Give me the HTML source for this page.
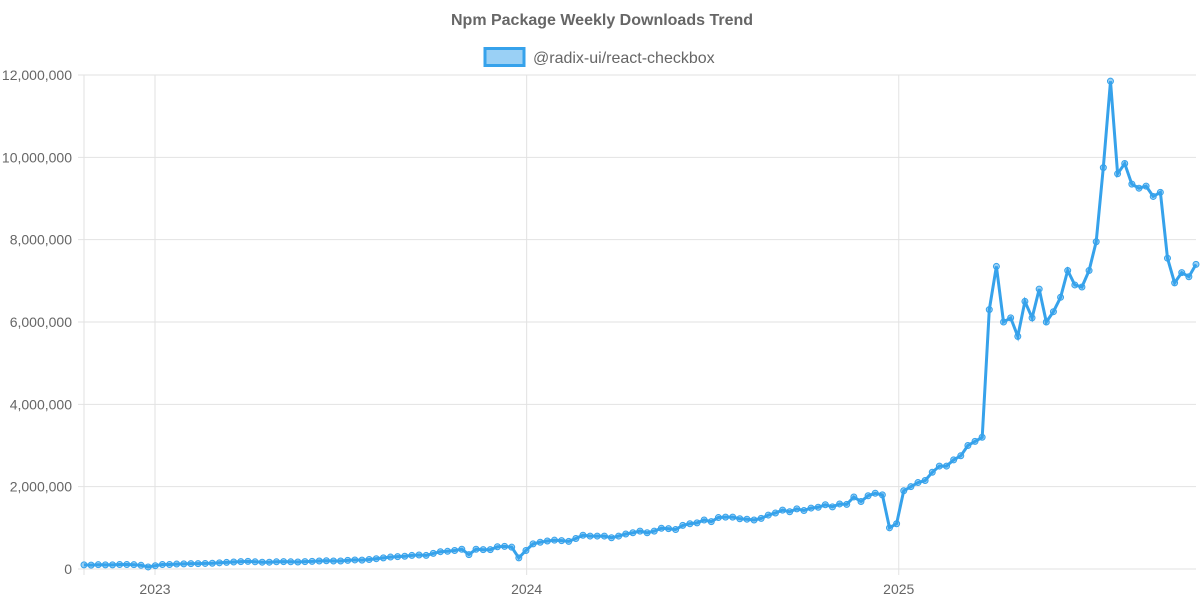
<!DOCTYPE html>
<html><head><meta charset="utf-8"><style>
body{margin:0;background:#fff;font-family:"Liberation Sans",sans-serif}
</style></head><body>
<svg id="c" width="1200" height="600" xmlns="http://www.w3.org/2000/svg">
<text x="602" y="25" text-anchor="middle" font-size="16" font-weight="bold" fill="#666">Npm Package Weekly Downloads Trend</text>
<g>
<rect x="485" y="48.5" width="39" height="17" fill="rgba(54,162,235,0.5)" stroke="#36a2eb" stroke-width="3"/>
<text x="533" y="63" font-size="16" fill="#666">@radix-ui/react-checkbox</text>
</g>
<g id="grid"></g><g id="plot"></g>
</svg>
<script>
const yTicks=[0,2000000,4000000,6000000,8000000,10000000,12000000];
const xTickLabels=["2023","2024","2025"];
const xTickIdx=[9.96,62.1,114.3];
const downloadsK=[100,95,105,100,100,110,110,105,90,50,
80,110,110,120,125,130,130,135,140,150,
160,170,180,185,175,165,165,175,180,175,
170,180,185,195,200,195,195,210,220,215,
230,250,270,290,300,310,330,340,330,380,
420,430,450,480,350,480,470,470,540,550,
530,270,450,610,650,680,700,690,670,740,
820,800,800,800,760,800,850,880,920,880,
920,990,980,960,1060,1100,1120,1190,1150,1250,
1260,1260,1220,1210,1190,1230,1310,1360,1430,1390,
1460,1420,1480,1500,1560,1510,1580,1570,1750,1640,
1780,1840,1800,1000,1100,
1900,2000,2100,2150,2350,2500,2500,2650,2750,3000,3100,3200,
6300,7350,6000,6100,5650,6500,6100,6800,6000,6250,6600,7250,6900,6850,7250,7950,9750,11850,
9600,9850,9350,9250,9300,9050,9150,7550,6950,7200,7100,7400];
const NS="http://www.w3.org/2000/svg";
const x0=84,x1=1196,yTop=75,yBot=569;
const n=downloadsK.length;
const xs=i=>x0+(x1-x0)*i/(n-1);
const ys=v=>yBot-(yBot-yTop)*v/12000000;
const grid=document.getElementById('grid'),plot=document.getElementById('plot');
function mk(tag,attrs,parent){const e=document.createElementNS(NS,tag);for(const k in attrs)e.setAttribute(k,attrs[k]);parent.appendChild(e);return e;}
yTicks.forEach(t=>{
 const l=mk('line',{x1:x0-6,x2:x1,y1:ys(t),y2:ys(t),stroke:'#e2e2e2','stroke-width':1},grid);
 
 
 const tx=mk('text',{x:72,y:ys(t)+5,'text-anchor':'end','font-size':14,fill:'#666'},grid);
 tx.textContent=t.toLocaleString('en-US');
 
 
});
const vl=mk('line',{x1:x0,x2:x0,y1:yTop,y2:yBot+6,stroke:'#e2e2e2'},grid);


xTickIdx.forEach((ix,k)=>{
 const l=mk('line',{x1:xs(ix),x2:xs(ix),y1:yTop,y2:yBot+6,stroke:'#e2e2e2'},grid);
 
 
 const tx=mk('text',{x:xs(ix),y:594,'text-anchor':'middle','font-size':14,fill:'#666'},grid);
 tx.textContent=xTickLabels[k];
 
 
});
const pts=downloadsK.map((v,i)=>xs(i).toFixed(1)+','+ys(v*1000).toFixed(1)).join(' ');
const pl=mk('polyline',{points:pts,fill:'none',stroke:'#36a2eb','stroke-width':3,'stroke-linejoin':'miter'},plot);


downloadsK.forEach((v,i)=>{
 const c=mk('circle',{cx:xs(i),cy:ys(v*1000),r:3,fill:'rgba(54,162,235,0.5)',stroke:'#36a2eb','stroke-width':1},plot);
 
 
});
</script>
</body></html>
